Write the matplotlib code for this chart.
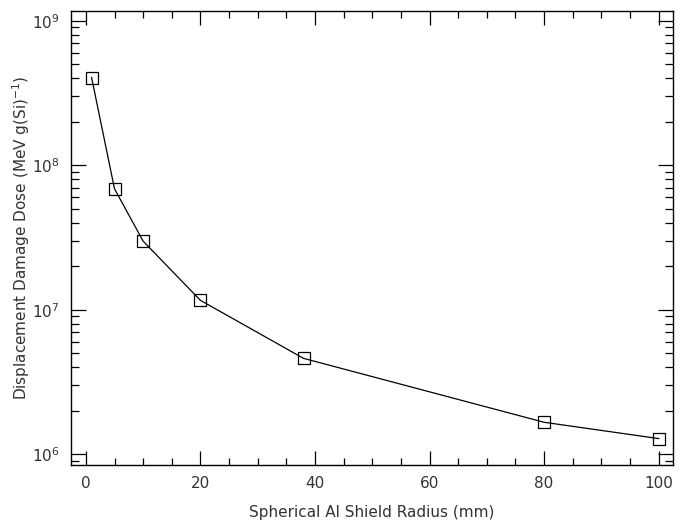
import numpy as np
import matplotlib.pyplot as plt
from matplotlib.ticker import LogLocator, MultipleLocator, FixedLocator

# dados
raio_mm = [1, 5, 10, 20, 38, 80, 100]
dose = [4.05e8, 6.87e7, 2.98e7, 1.16e7, 4.6e6, 1.66e6, 1.28e6]

fig = plt.figure(figsize=(6.87, 5.21), dpi=100)
ax = fig.add_axes([0.1033, 0.1075, 0.8763, 0.8714])

ax.plot(raio_mm, dose, color='black', linewidth=0.9, marker='s', markersize=8,
        markerfacecolor='none', markeredgecolor='black', markeredgewidth=0.9)

ax.set_yscale('log')
ax.set_xlim(-2.6, 102.5)
ax.set_ylim(8.4e5, 1.17e9)

ax.xaxis.set_major_locator(MultipleLocator(20))
ax.xaxis.set_minor_locator(MultipleLocator(5))
ax.yaxis.set_major_locator(FixedLocator([1e6, 1e7, 1e8, 1e9]))
ax.yaxis.set_minor_locator(LogLocator(base=10, subs=np.arange(2, 10), numticks=20))

ax.tick_params(which='both', direction='in', top=True, right=True, color='black', labelsize=11, labelcolor='#333333')
ax.tick_params(which='major', length=11, width=0.9, pad=8)
ax.tick_params(which='minor', length=5.5, width=0.9)
ax.tick_params(axis='x', which='major', length=10)
ax.tick_params(axis='x', which='minor', length=5)

for s in ax.spines.values():
    s.set_linewidth(1.0)

ax.set_xlabel('Spherical Al Shield Radius (mm)', fontsize=11, color='#333333', labelpad=10)
ax.set_ylabel(r'Displacement Damage Dose (MeV g(Si)$^{-1}$)', fontsize=11, color='#333333', labelpad=0)

fig.savefig('out.png', dpi=100)
